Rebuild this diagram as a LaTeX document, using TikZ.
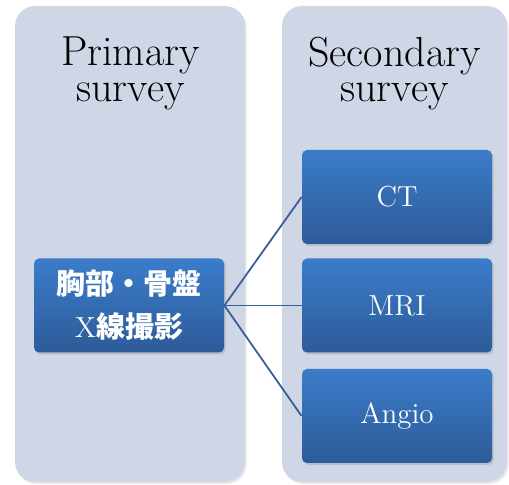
\documentclass[tikz,border=0pt]{standalone}
\usepackage{fontspec}
\newfontfamily\cjk{Noto Sans CJK JP}
\usetikzlibrary{shadows}
\definecolor{panelfill}{RGB}{207,215,231}
\definecolor{boxtop}{RGB}{59,124,201}
\definecolor{boxbottom}{RGB}{45,91,153}
\definecolor{linkcol}{RGB}{58,94,150}
\begin{document}
\begin{tikzpicture}[x=0.5pt, y=-0.5pt,
    panel/.style={fill=panelfill, rounded corners=10pt,
        drop shadow={opacity=0.18, shadow xshift=0.8pt, shadow yshift=-1pt}},
    heading/.style={align=center, text=black, font=\fontsize{21}{17.8}\selectfont},
    exam/.style={rounded corners=2.5pt, top color=boxtop, bottom color=boxbottom,
        text=white, minimum width=95pt, minimum height=47pt, align=center,
        font=\fontsize{14.5}{21.5}\selectfont,
        drop shadow={opacity=0.3, shadow xshift=0.8pt, shadow yshift=-1pt}},
    link/.style={draw=linkcol, line width=0.9pt}]
    \useasboundingbox (0,0) rectangle (509,485);
    
    % 1. two survey panels
    \path[panel] (15,6) rectangle (245,482);
    \path[panel] (282,6) rectangle (507,482);
    
    % 2. panel headings
    \node[heading] (primary) at (130.5,73.5) {Primary\\survey};
    \node[heading] (secondary) at (394.5,73.5) {Secondary\\survey};
    
    % 3. examination boxes
    \node[exam] (xray) at (129,305.5) {{\cjk\bfseries 胸部・骨盤}\\X{\cjk\bfseries 線撮影}};
    \node[exam] (ct) at (397,197) {CT};
    \node[exam] (mri) at (397,305.5) {MRI};
    \node[exam] (angio) at (397,416) {Angio};
    
    % 4. connectors
    \draw[link] (xray.east) -- (ct.west);
    \draw[link] (xray.east) -- (mri.west);
    \draw[link] (xray.east) -- (angio.west);
\end{tikzpicture}
\end{document}
